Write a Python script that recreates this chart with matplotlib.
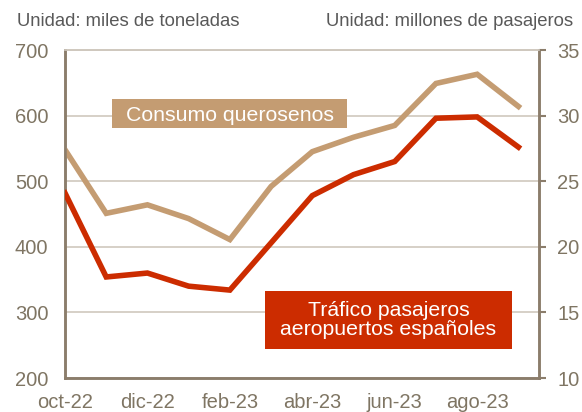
import matplotlib
matplotlib.use("Agg")
import matplotlib.pyplot as plt
from matplotlib.patches import Rectangle

months = ["oct-22", "nov-22", "dic-22", "ene-23", "feb-23", "mar-23", "abr-23",
          "may-23", "jun-23", "jul-23", "ago-23", "sep-23"]
queroseno = [548, 451, 464, 443, 411, 492, 545, 567, 585, 649, 663, 614]
pasajeros = [24.1, 17.7, 18.0, 17.0, 16.7, 20.3, 23.9, 25.5, 26.5, 29.8, 29.9, 27.6]
left_ticks = [200, 300, 400, 500, 600, 700]
right_ticks = [10, 15, 20, 25, 30, 35]

TAN = "#C49C72"
RED = "#CC2C00"
TXT = "#7F7563"
SPINE = "#8B7D6B"
GRID = "#CFC8BE"

plt.rcParams["font.family"] = ["Liberation Sans", "DejaVu Sans"]

fig = plt.figure(figsize=(5.82, 4.12), dpi=100)
ax = fig.add_axes([65/582, 1-378/412, (539-65)/582, (378-50)/412])
ax2 = ax.twinx()

x = list(range(len(months)))
ax.set_xlim(0, 11.5)
ax.set_ylim(200, 700)
ax2.set_ylim(10, 35)

ax.set_yticks(left_ticks)
ax2.set_yticks(right_ticks)
ax.grid(axis="y", color=GRID, lw=1.2)
ax.set_axisbelow(True)

ax.plot(x, queroseno, color=TAN, lw=4, solid_joinstyle="miter", zorder=3)
ax2.plot(x, pasajeros, color=RED, lw=4, solid_joinstyle="miter", zorder=3)

ax.set_xticks(x[::2])
ax.set_xticklabels(months[::2])
ax.tick_params(axis="x", length=0, pad=11, labelsize=14.5, labelcolor=TXT)
ax.tick_params(axis="y", length=0, pad=12, labelsize=14.5, labelcolor=TXT)
ax2.tick_params(axis="y", length=5, width=1.5, color=SPINE, pad=8, labelsize=14.5, labelcolor=TXT)

for a in (ax, ax2):
    for s in ("left", "right", "bottom"):
        a.spines[s].set_color(SPINE)
        a.spines[s].set_linewidth(1.8)
    a.spines["top"].set_color(GRID)
    a.spines["top"].set_linewidth(1.2)

fig.text(17/582, 1-21/412, "Unidad: miles de toneladas", fontsize=13.3, color="#595959",
         va="center", ha="left")
fig.text(573/582, 1-21/412, "Unidad: millones de pasajeros", fontsize=13.3, color="#595959",
         va="center", ha="right")

# label boxes (pixel geometry converted to axes fraction)
def px_box(x0, y0, x1, y1):
    return ((x0 - 65) / 474, (378 - y1) / 328, (x1 - x0) / 474, (y1 - y0) / 328)

bx, by, bw, bh = px_box(112, 99, 347, 128)
ax2.add_patch(Rectangle((bx, by), bw, bh, transform=ax2.transAxes, fc=TAN, ec="none", zorder=9))
ax2.text(bx + bw / 2, by + bh / 2, "Consumo querosenos", transform=ax2.transAxes,
         ha="center", va="center_baseline", fontsize=15.3, color="white", zorder=10)

bx, by, bw, bh = px_box(265, 291, 512, 349)
ax2.add_patch(Rectangle((bx, by), bw, bh, transform=ax2.transAxes, fc=RED, ec="none", zorder=9))
ax2.text(bx + bw / 2, by + bh / 2, "Tráfico pasajeros\naeropuertos españoles",
         transform=ax2.transAxes, ha="center", va="center", fontsize=15.3, color="white",
         zorder=10, linespacing=1.05)

fig.savefig("out.png", dpi=100)
